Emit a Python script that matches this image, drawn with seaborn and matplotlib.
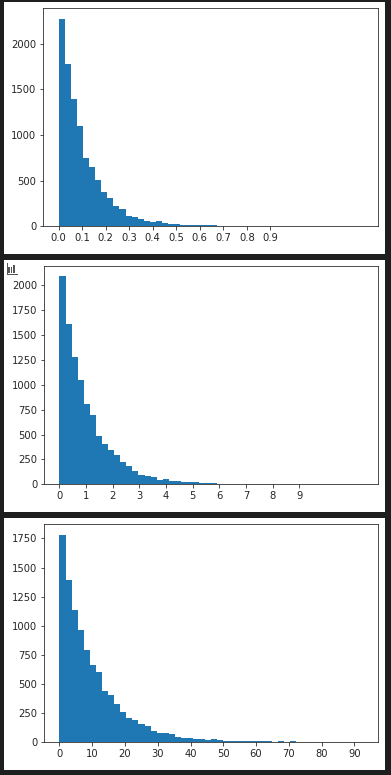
import matplotlib
matplotlib.use("Agg")
import matplotlib.pyplot as plt
from matplotlib.patches import Rectangle
import numpy as np
import seaborn as sns

# Bin heights (50 bins each, the far end is empty)
counts_top = [2272, 1779, 1395, 1100, 749, 650, 508, 376, 311, 223, 190, 113, 102, 80, 58, 47, 58, 37, 26, 26,
              15, 14, 14, 14, 13, 13] + [0] * 24
counts_mid = [2088, 1605, 1276, 1051, 802, 692, 487, 406, 346, 295, 225, 185, 134, 94, 84, 74, 44, 54, 34, 34,
              24, 24, 24, 14, 14, 14] + [0] * 24
counts_bot = [1782, 1395, 1137, 965, 794, 665, 605, 441, 407, 329, 261, 209, 192, 158, 141, 97, 80, 80, 72, 46,
              37, 37, 29, 29, 20, 29, 20, 11, 11, 11, 11, 11, 11, 11, 11, 0, 11, 0, 11] + [0] * 11

# Upper end of the histogram range on each x axis
range_top = 1.294
range_mid = 11.4
range_bot = 92.7

xticks_top = [0.0, 0.1, 0.2, 0.3, 0.4, 0.5, 0.6, 0.7, 0.8, 0.9]
xticks_mid = [0, 1, 2, 3, 4, 5, 6, 7, 8, 9]
xticks_bot = [0, 10, 20, 30, 40, 50, 60, 70, 80, 90]
yticks_top = [0, 500, 1000, 1500, 2000]
yticks_mid = [0, 250, 500, 750, 1000, 1250, 1500, 1750, 2000]
yticks_bot = [0, 250, 500, 750, 1000, 1250, 1500, 1750]

W, H = 391, 775
DARK = "#1e1e1e"

sns.set_style("ticks")
plt.rcParams["font.family"] = ["DejaVu Sans"]
plt.rcParams["font.size"] = 10

fig = plt.figure(figsize=(W / 72, H / 72), dpi=72, facecolor=DARK)


# Pixel box (origin top left) to figure fractions
def frac(x0, y0, x1, y1):
    return [x0 / W, 1 - y1 / H, (x1 - x0) / W, (y1 - y0) / H]


# White cell backgrounds, behind the axes
for y0, y1 in [(2, 254), (260, 512), (518, 770)]:
    l, b, w, h = frac(4, y0, 385, y1)
    fig.add_artist(Rectangle((l, b), w, h, transform=fig.transFigure, color="white", lw=0, zorder=-1))

# Small bar chart icon at the corner of the middle cell
for x0, y0, x1, y1 in [(8.3, 266.7, 10, 272.7), (10.7, 267.3, 12.3, 272.7), (13, 265, 15, 272.7),
                       (6.7, 263, 7.5, 274.5), (6.7, 273.8, 17.5, 274.5)]:
    l, b, w, h = frac(x0, y0, x1, y1)
    fig.add_artist(Rectangle((l, b), w, h, transform=fig.transFigure, color="#555555", lw=0))

panels = [
    (frac(43.3, 8.3, 378.3, 226.3), counts_top, range_top, xticks_top, yticks_top),
    (frac(44.3, 266, 378.3, 484.3), counts_mid, range_mid, xticks_mid, yticks_mid),
    (frac(44.3, 524.3, 378.3, 742.3), counts_bot, range_bot, xticks_bot, yticks_bot),
]

for box, counts, top, xticks, yticks in panels:
    ax = fig.add_axes(box)
    edges = np.linspace(0, top, len(counts) + 1)
    centers = (edges[:-1] + edges[1:]) / 2
    sns.histplot(x=centers, weights=counts, bins=len(counts), binrange=(0, top), color="#1f77b4", alpha=1,
                 linewidth=0, ax=ax)
    ax.set_xticks(xticks)
    ax.set_yticks(yticks)
    ax.set_ylabel("")
    ax.tick_params(labelsize=10, length=3.5, width=0.8)
    for spine in ax.spines.values():
        spine.set_linewidth(0.8)

fig.savefig("out.png", dpi=72, facecolor=DARK)
